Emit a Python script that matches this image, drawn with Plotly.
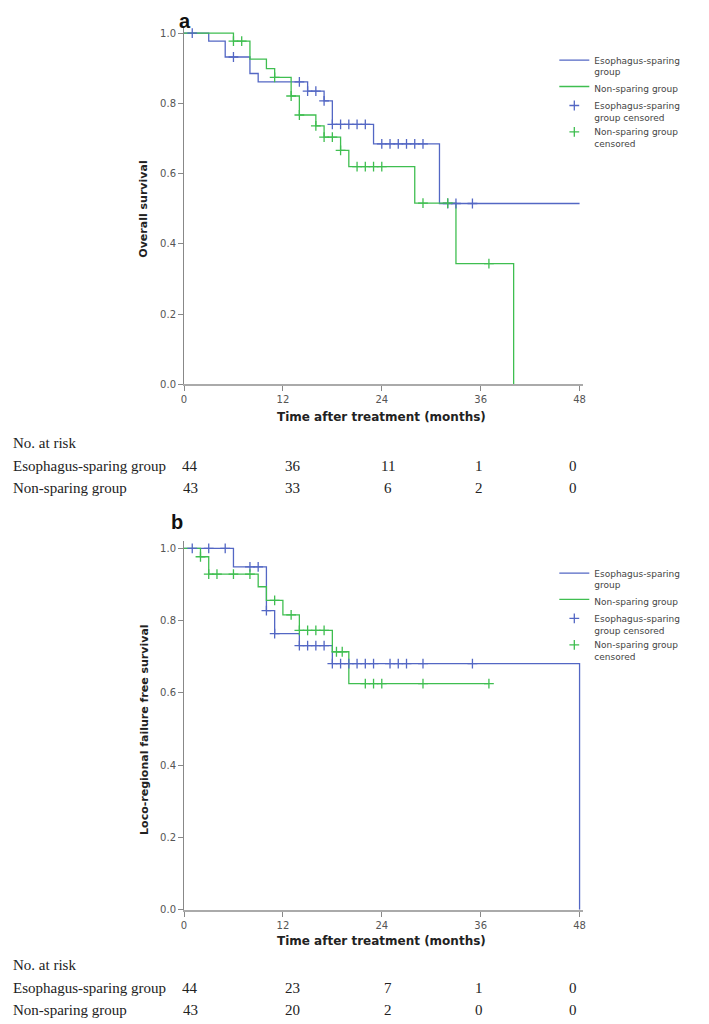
import plotly.graph_objects as go

BLUE = "#5367c4"
GREEN = "#3fbe50"

# ---------------- Panel a: overall survival ----------------
os_es_t = [0, 3, 5, 8, 9, 15, 17, 18, 23, 31, 48]
os_es_s = [1.0, 0.977, 0.932, 0.885, 0.861, 0.835, 0.807, 0.740, 0.685, 0.515, 0.515]
os_es_cens = [1, 6, 14, 15, 16, 17, 18, 19, 20, 21, 22, 24, 25, 26, 27, 28, 29, 32, 33, 35]

os_ns_t = [0, 6, 8, 10, 11, 13, 14, 16, 17, 19, 20, 28, 33, 40]
os_ns_s = [1.0, 0.977, 0.926, 0.899, 0.874, 0.821, 0.767, 0.736, 0.704, 0.666, 0.620, 0.516, 0.344, 0.0]
os_ns_cens = [6, 7, 11, 13, 14, 16, 17, 18, 19, 21, 22, 23, 24, 29, 32, 37]

# ---------------- Panel b: loco-regional failure free survival ----------------
lr_es_t = [0, 6, 10, 11, 14, 18, 48]
lr_es_s = [1.0, 0.949, 0.828, 0.764, 0.731, 0.681, 0.0]
lr_es_cens = [1, 3, 5, 8, 9, 10, 11, 14, 15, 16, 17, 18, 19, 20, 21, 22, 23, 25, 26, 27, 29, 35]

lr_ns_t = [0, 2, 3, 9, 10, 12, 14, 18, 20, 37]
lr_ns_s = [1.0, 0.977, 0.929, 0.894, 0.856, 0.816, 0.773, 0.714, 0.626, 0.626]
lr_ns_cens = [2, 3, 4, 6, 8, 11, 13, 14, 15, 16, 17, 18.5, 19.2, 22, 23, 24, 29, 37]

# ---------------- Numbers at risk ----------------
risk_times = [0, 12, 24, 36, 48]
risk_a_es = [44, 36, 11, 1, 0]
risk_a_ns = [43, 33, 6, 2, 0]
risk_b_es = [44, 23, 7, 1, 0]
risk_b_ns = [43, 20, 2, 0, 0]

group_names = ["Esophagus-sparing group", "Non-sparing group"]
legend_names = ["Esophagus-sparing<br>group", "Non-sparing group",
                "Esophagus-sparing<br>group censored", "Non-sparing group<br>censored"]


def step_value(ts, ss, t):
    v = ss[0]
    for ti, si in zip(ts, ss):
        if ti <= t:
            v = si
    return v


# page is rendered with an 8px body margin; work in page pixels
OFF = 8
W, H = 709 - OFF, 1024 - OFF


def px(x):
    return (x - OFF) / W


def py(y):
    return 1 - (y - OFF) / H


fig = go.Figure()


def add_panel(xa, ya, leg, es_t, es_s, es_c, ns_t, ns_s, ns_c):
    fig.add_trace(go.Scatter(x=es_t, y=es_s, mode="lines", line=dict(color=BLUE, width=1.3, shape="hv"),
                             name=legend_names[0], xaxis=xa, yaxis=ya, legend=leg))
    fig.add_trace(go.Scatter(x=ns_t, y=ns_s, mode="lines", line=dict(color=GREEN, width=1.3, shape="hv"),
                             name=legend_names[1], xaxis=xa, yaxis=ya, legend=leg))
    fig.add_trace(go.Scatter(x=es_c, y=[step_value(es_t, es_s, t) for t in es_c], mode="markers",
                             marker=dict(symbol="cross-thin", size=7, line=dict(color=BLUE, width=1.3)),
                             name=legend_names[2], xaxis=xa, yaxis=ya, legend=leg, cliponaxis=False))
    fig.add_trace(go.Scatter(x=ns_c, y=[step_value(ns_t, ns_s, t) for t in ns_c], mode="markers",
                             marker=dict(symbol="cross-thin", size=7, line=dict(color=GREEN, width=1.3)),
                             name=legend_names[3], xaxis=xa, yaxis=ya, legend=leg, cliponaxis=False))


add_panel("x", "y", "legend", os_es_t, os_es_s, os_es_cens, os_ns_t, os_ns_s, os_ns_cens)
add_panel("x2", "y2", "legend2", lr_es_t, lr_es_s, lr_es_cens, lr_ns_t, lr_ns_s, lr_ns_cens)

x_dom = [px(182.5), px(584.8)]
xax = dict(range=[0, 48.4], tickvals=risk_times, ticks="outside", ticklen=5, tickcolor="#888",
           showline=True, linecolor="#aaaaaa", linewidth=2, showgrid=False, zeroline=False,
           tickfont=dict(family="DejaVu Sans", size=10, color="#555"), domain=x_dom)
yax = dict(range=[0, 1.02], tickvals=[0, 0.2, 0.4, 0.6, 0.8, 1.0], tickformat=".1f", ticks="outside",
           ticklen=5, tickcolor="#888", showline=True, linecolor="#888", linewidth=1, showgrid=False,
           zeroline=False, tickfont=dict(family="DejaVu Sans", size=10, color="#555"))

leg_common = dict(font=dict(family="DejaVu Sans", size=9, color="#444"), bgcolor="rgba(0,0,0,0)",
                  xanchor="left", yanchor="top", valign="top", tracegroupgap=0, itemwidth=30)

fig.update_layout(
    width=W, height=H, margin=dict(l=0, r=0, t=0, b=0),
    paper_bgcolor="white", plot_bgcolor="white",
    xaxis=dict(xax, anchor="y"),
    yaxis=dict(yax, anchor="x", domain=[py(386.7), py(26.2)]),
    xaxis2=dict(xax, anchor="y2"),
    yaxis2=dict(yax, anchor="x2", domain=[py(915), py(544.4)]),
    legend=dict(leg_common, x=px(556), y=py(48)),
    legend2=dict(leg_common, x=px(556), y=py(564)),
)

ann = []
serif = dict(family="Liberation Serif", size=15, color="#222")


def A(**kw):
    d = dict(xref="paper", yref="paper", showarrow=False, xanchor="center", yanchor="middle")
    d.update(kw)
    ann.append(d)


def panel_text(letter, letter_x, letter_y, ylabel, ytop, ybot, xt_y, risk_y, xref, es_vals, ns_vals):
    A(text="<b>%s</b>" % letter, x=px(letter_x), y=py(letter_y),
      font=dict(family="Liberation Sans", size=20, color="#111"))
    A(text="<b>%s</b>" % ylabel, textangle=-90, x=px(142), y=py((ytop + ybot) / 2),
      font=dict(family="DejaVu Sans", size=11, color="#222"))
    A(text="<b>Time after treatment (months)</b>", x=px(382), y=py(xt_y),
      font=dict(family="DejaVu Sans", size=12, color="#222"))
    A(text="No. at risk", x=px(8), y=py(risk_y), xanchor="left", font=serif)
    shifts = [6, 10, 6, -2, -7]
    for row, (name, vals) in enumerate(zip(group_names, [es_vals, ns_vals])):
        yy = py(risk_y + 22.5 * (row + 1))
        A(text=name, x=px(8), y=yy, xanchor="left", font=serif)
        for t, v, s in zip(risk_times, vals, shifts):
            A(text=str(v), x=t, xref=xref, y=yy, xshift=s, font=serif)


panel_text("a", 183, 21, "Overall survival", 33.3, 386.7, 419, 446, "x", risk_a_es, risk_a_ns)
panel_text("b", 175, 525, "Loco-regional failure free survival", 551.7, 915, 947, 971, "x2",
           risk_b_es, risk_b_ns)

fig.update_layout(annotations=ann)
fig.write_html("out.html")
